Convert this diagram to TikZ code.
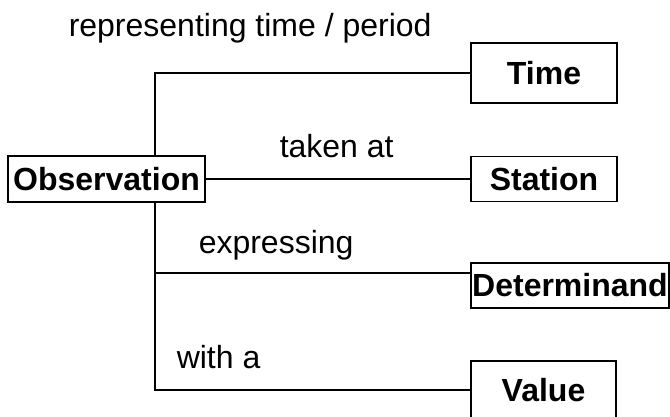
\documentclass[tikz,border=0pt]{standalone}
\usepackage{fontspec}
\setmainfont{Liberation Sans}
\begin{document}
\begin{tikzpicture}[x=1pt, y=-1pt, line width=1.5pt,
    font=\fontsize{32}{38}\selectfont,
    box/.style={draw, fill=white, font=\fontsize{32}{38}\selectfont\bfseries, inner sep=1pt, anchor=center},
    lbl/.style={anchor=base west, inner sep=0pt}]
    \useasboundingbox (0, 0) rectangle (670, 417);
    \node[box, minimum width=197pt, minimum height=46pt] (obs) at (106.5, 179) {Observation};
    \node[box, minimum width=146pt, minimum height=60pt] (time) at (544, 73) {Time};
    \node[box, minimum width=146pt, minimum height=45pt] (sta) at (544, 179) {Station};
    \node[box, minimum width=198pt, minimum height=45pt] (det) at (570, 285.5) {Determinand};
    \node[box, minimum width=145pt, minimum height=58pt] (val) at (543.5, 390) {Value};
    \coordinate (spine) at (155, 0);
    \coordinate (detin) at ([yshift=12.5pt]det.west);
    \draw (time.west) -| (spine |- obs.north);
    \draw (spine |- obs.south) |- (val.west);
    \draw (spine |- detin) -- (detin);
    \draw (obs.east) -- (sta.west);
    \node[lbl] (ltime) at (68, 37) {representing time / period};
    \node[lbl] (lsta) at (279, 158) {taken at};
    \node[lbl] (ldet) at (198, 253) {expressing};
    \node[lbl] (lval) at (176, 368) {with a};
  \end{tikzpicture}
\end{document}
